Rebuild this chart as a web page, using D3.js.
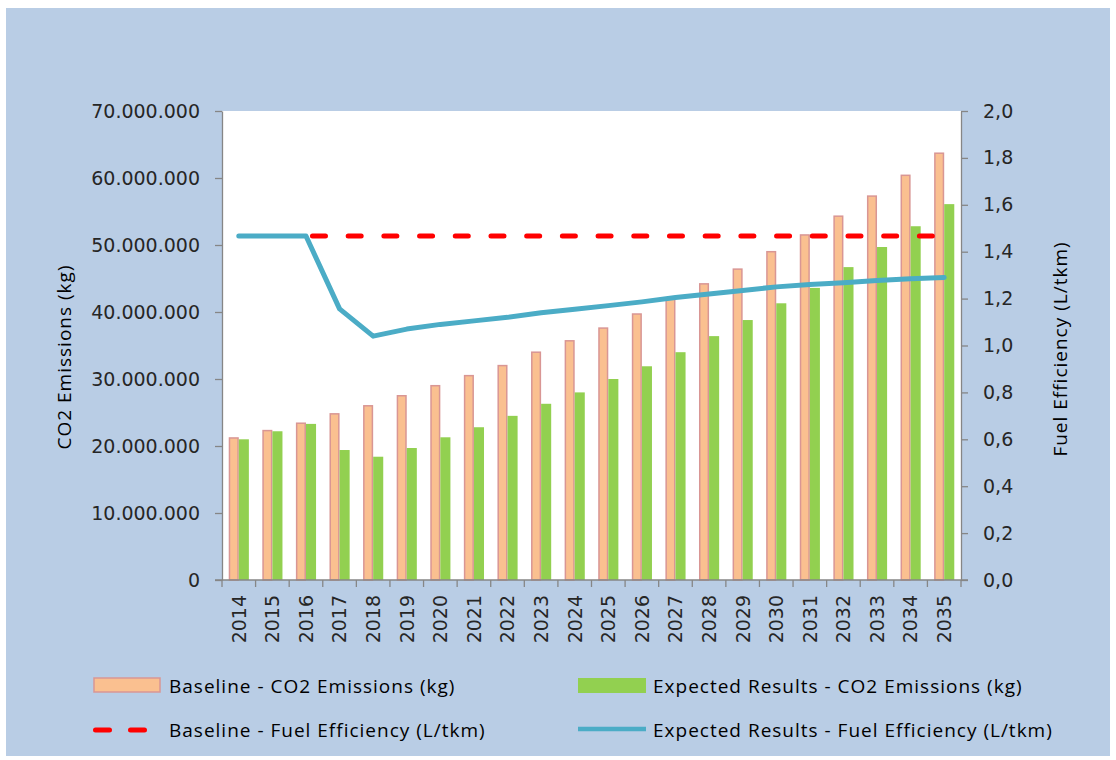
<!DOCTYPE html>
<html>
<head>
<meta charset="utf-8">
<script src="https://cdn.jsdelivr.net/npm/d3@7"></script>
<style>
  body { margin: 0; background: #fff; }
  svg { display: block; }
  .tick-label { font-family: "DejaVu Sans", sans-serif; font-size: 19px; fill: #262626; }
  .title { font-family: "Open Sans", sans-serif; font-size: 19px; letter-spacing: 1px; fill: #000; }
  .legend { font-family: "Open Sans", sans-serif; font-size: 19px; letter-spacing: 1px; fill: #000; }
</style>
</head>
<body>
<svg id="chart" width="1116" height="760"></svg>
<script>
// years on the x axis
var years = ["2014","2015","2016","2017","2018","2019","2020","2021","2022","2023","2024",
             "2025","2026","2027","2028","2029","2030","2031","2032","2033","2034","2035"];

// CO2 emissions (kg)
var baselineCO2 = [21200000, 22300000, 23400000, 24800000, 26000000, 27500000, 29000000, 30500000,
                   32000000, 34000000, 35700000, 37600000, 39700000, 41900000, 44200000, 46400000,
                   49000000, 51500000, 54300000, 57300000, 60400000, 63700000];
var expectedCO2 = [21000000, 22200000, 23300000, 19400000, 18400000, 19700000, 21300000, 22800000,
                   24500000, 26300000, 28000000, 30000000, 31900000, 34000000, 36400000, 38800000,
                   41300000, 43600000, 46700000, 49700000, 52800000, 56100000];

// fuel efficiency (L/tkm); the dashed baseline is only visible from 2016 on
var baselineFE = [null, null, 1.467, 1.467, 1.467, 1.467, 1.467, 1.467, 1.467, 1.467, 1.467,
                  1.467, 1.467, 1.467, 1.467, 1.467, 1.467, 1.467, 1.467, 1.467, 1.467, 1.467];
var expectedFE = [1.467, 1.467, 1.467, 1.156, 1.04, 1.07, 1.09, 1.105, 1.12, 1.14, 1.155,
                  1.17, 1.186, 1.205, 1.22, 1.235, 1.25, 1.26, 1.268, 1.277, 1.285, 1.29];

var leftTicks = [0, 10000000, 20000000, 30000000, 40000000, 50000000, 60000000, 70000000];
var rightTicks = [0, 0.2, 0.4, 0.6, 0.8, 1.0, 1.2, 1.4, 1.6, 1.8, 2.0];

var seriesNames = ["Baseline - CO2 Emissions (kg)", "Expected Results - CO2 Emissions (kg)",
                   "Baseline - Fuel Efficiency (L/tkm)", "Expected Results - Fuel Efficiency (L/tkm)"];

var locale = d3.formatLocale({ decimal: ",", thousands: ".", grouping: [3], currency: ["", ""] });
var fmtBig = locale.format(",d");
var fmtDec = locale.format(".1f");

var svg = d3.select("#chart");
var plot = { left: 222, right: 961, top: 111, bottom: 580 };

// background
svg.append("rect").attr("x", 6).attr("y", 8).attr("width", 1104).attr("height", 748)
    .attr("fill", "#b9cde5");
svg.append("rect").attr("x", plot.left).attr("y", plot.top)
    .attr("width", plot.right - plot.left).attr("height", plot.bottom - plot.top)
    .attr("fill", "#ffffff");

var x = d3.scaleBand().domain(years).range([plot.left, plot.right]).paddingInner(0.4).paddingOuter(0.2);
var x1 = d3.scaleBand().domain(["base", "exp"]).range([0, x.bandwidth()]);
var yL = d3.scaleLinear().domain([0, 70000000]).range([plot.bottom, plot.top]);
var yR = d3.scaleLinear().domain([0, 2]).range([plot.bottom, plot.top]);

// bars
var g = svg.append("g");
g.selectAll(".base").data(years).enter().append("rect")
    .attr("x", function(d) { return x(d) + x1("base") + 0.75; })
    .attr("y", function(d, i) { return yL(baselineCO2[i]); })
    .attr("width", x1.bandwidth() - 1.5)
    .attr("height", function(d, i) { return plot.bottom - yL(baselineCO2[i]); })
    .attr("fill", "#fac090").attr("stroke", "#d99694").attr("stroke-width", 1.5);
g.selectAll(".exp").data(years).enter().append("rect")
    .attr("x", function(d) { return x(d) + x1("exp"); })
    .attr("y", function(d, i) { return yL(expectedCO2[i]); })
    .attr("width", x1.bandwidth())
    .attr("height", function(d, i) { return plot.bottom - yL(expectedCO2[i]); })
    .attr("fill", "#92d050");

// lines
var cx = function(d, i) { return x(years[i]) + x.bandwidth() / 2; };
var lineFE = d3.line().defined(function(d) { return d != null; })
    .x(cx).y(function(d) { return yR(d); });

svg.append("path").datum(baselineFE)
    .attr("d", lineFE).attr("fill", "none")
    .attr("stroke", "#ff0000").attr("stroke-width", 5)
    .attr("stroke-linecap", "round").attr("stroke-dasharray", "13,22.7")
    .attr("stroke-dashoffset", 29.2);
svg.append("path").datum(expectedFE)
    .attr("d", lineFE).attr("fill", "none")
    .attr("stroke", "#4bacc6").attr("stroke-width", 5)
    .attr("stroke-linejoin", "round").attr("stroke-linecap", "round");

// axes
var axisColor = "#868686";
var axL = svg.append("g").attr("transform", "translate(" + plot.left + ",0)")
    .call(d3.axisLeft(yL).tickValues(leftTicks).tickSize(7).tickSizeOuter(0).tickFormat(fmtBig));
var axR = svg.append("g").attr("transform", "translate(" + plot.right + ",0)")
    .call(d3.axisRight(yR).tickValues(rightTicks).tickSize(7).tickSizeOuter(0).tickFormat(fmtDec));
[axL, axR].forEach(function(ax) {
  ax.select(".domain").attr("stroke", axisColor).attr("stroke-width", 1.3);
  ax.selectAll(".tick line").attr("stroke", axisColor).attr("stroke-width", 1.3);
  ax.selectAll(".tick text").attr("class", "tick-label").attr("font-family", null).attr("font-size", null);
});
axL.selectAll(".tick text").attr("x", -22);
axR.selectAll(".tick text").attr("x", 22);

// x axis line + boundary ticks
var xa = svg.append("g");
xa.append("line").attr("x1", plot.left - 7).attr("x2", plot.right + 7)
    .attr("y1", plot.bottom).attr("y2", plot.bottom)
    .attr("stroke", axisColor).attr("stroke-width", 1.3);
xa.selectAll(".xt").data(d3.range(years.length + 1)).enter().append("line")
    .attr("x1", function(i) { return plot.left + i * (plot.right - plot.left) / years.length; })
    .attr("x2", function(i) { return plot.left + i * (plot.right - plot.left) / years.length; })
    .attr("y1", plot.bottom).attr("y2", plot.bottom + 7)
    .attr("stroke", axisColor).attr("stroke-width", 1.3);
xa.selectAll(".yl").data(years).enter().append("text")
    .attr("class", "tick-label")
    .attr("transform", function(d) { return "translate(" + (x(d) + x.bandwidth() / 2) + ",595) rotate(-90)"; })
    .attr("text-anchor", "end").attr("dy", "0.36em")
    .text(function(d) { return d; });

// axis titles
svg.append("text").attr("class", "title")
    .attr("transform", "translate(64,357) rotate(-90)")
    .attr("text-anchor", "middle").attr("dy", "0.35em")
    .text("CO2 Emissions (kg)");
svg.append("text").attr("class", "title")
    .attr("transform", "translate(1060,349) rotate(-90)")
    .attr("text-anchor", "middle").attr("dy", "0.35em")
    .text("Fuel Efficiency (L/tkm)");

// legend
var leg = svg.append("g");
leg.append("rect").attr("x", 94).attr("y", 678).attr("width", 66).attr("height", 14)
    .attr("fill", "#fac090").attr("stroke", "#d99694").attr("stroke-width", 1.5);
leg.append("rect").attr("x", 578).attr("y", 678).attr("width", 68).attr("height", 15)
    .attr("fill", "#92d050");
leg.append("line").attr("x1", 95.5).attr("x2", 150).attr("y1", 730).attr("y2", 730)
    .attr("stroke", "#ff0000").attr("stroke-width", 5)
    .attr("stroke-linecap", "round").attr("stroke-dasharray", "14,21");
leg.append("line").attr("x1", 578).attr("x2", 646).attr("y1", 729).attr("y2", 729)
    .attr("stroke", "#4bacc6").attr("stroke-width", 4.5);
var legPos = [[169, 686], [653, 686], [169, 730], [653, 730]];
leg.selectAll("text").data(seriesNames).enter().append("text")
    .attr("class", "legend")
    .attr("x", function(d, i) { return legPos[i][0]; })
    .attr("y", function(d, i) { return legPos[i][1]; })
    .attr("dy", "0.35em")
    .text(function(d) { return d; });
</script>
</body>
</html>
